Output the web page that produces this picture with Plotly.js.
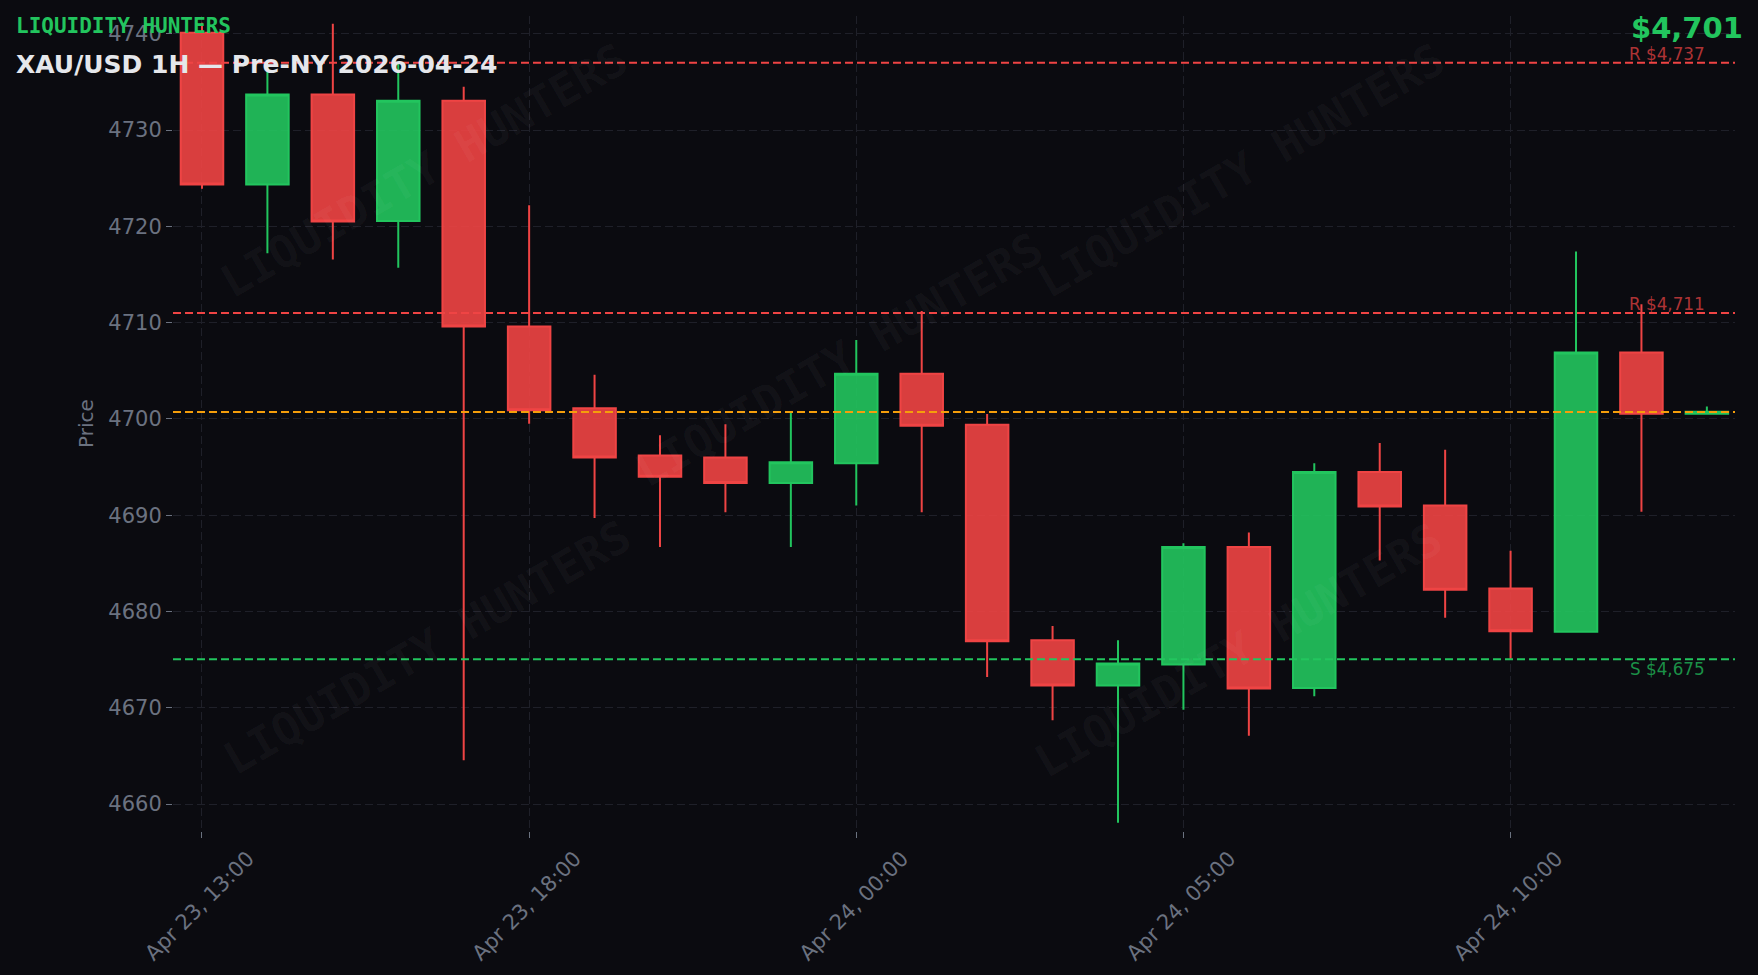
<!DOCTYPE html>
<html>
<head>
<meta charset="utf-8">
<script src="https://cdn.plot.ly/plotly-3.0.1.min.js"></script>
<style>
  html, body { margin: 0; padding: 0; background: #0b0b10; }
  #chart { width: 1758px; height: 975px; }
</style>
</head>
<body>
<div id="chart"></div>
<script>
// ---- data ----
const times = [
  "Apr 23, 13:00", "Apr 23, 14:00", "Apr 23, 15:00", "Apr 23, 16:00", "Apr 23, 17:00",
  "Apr 23, 18:00", "Apr 23, 19:00", "Apr 23, 20:00", "Apr 23, 21:00", "Apr 23, 22:00",
  "Apr 24, 00:00", "Apr 24, 01:00", "Apr 24, 02:00", "Apr 24, 03:00", "Apr 24, 04:00",
  "Apr 24, 05:00", "Apr 24, 06:00", "Apr 24, 07:00", "Apr 24, 08:00", "Apr 24, 09:00",
  "Apr 24, 10:00", "Apr 24, 11:00", "Apr 24, 12:00", "Apr 24, 13:00"
];
const openP  = [4740.1, 4724.35, 4733.7, 4720.55, 4733.05, 4709.6, 4701.1, 4696.2, 4696.0, 4693.35,
                4695.4, 4704.7, 4699.4, 4677.0, 4672.3, 4674.5, 4686.7, 4672.05, 4694.5, 4691.0,
                4682.4, 4677.9, 4706.9, 4700.55];
const highP  = [4741.15, 4736.8, 4741.05, 4736.9, 4734.5, 4722.2, 4704.6, 4698.3, 4699.45, 4700.65,
                4708.2, 4711.2, 4700.5, 4678.5, 4677.0, 4687.1, 4688.2, 4695.4, 4697.5, 4696.8,
                4686.3, 4717.4, 4711.9, 4701.3];
const lowP   = [4723.9, 4717.2, 4716.55, 4715.7, 4664.55, 4699.5, 4689.7, 4686.7, 4690.3, 4686.7,
                4691.0, 4690.3, 4673.2, 4668.7, 4658.05, 4669.8, 4667.1, 4671.2, 4685.3, 4679.35,
                4675.0, 4677.9, 4690.35, 4700.55];
const closeP = [4724.35, 4733.7, 4720.5, 4733.05, 4709.6, 4700.9, 4696.0, 4694.0, 4693.35, 4695.5,
                4704.7, 4699.3, 4676.9, 4672.3, 4674.6, 4686.7, 4672.0, 4694.5, 4690.9, 4682.25,
                4677.95, 4706.9, 4700.55, 4700.75];
const tickTimes = ["Apr 23, 13:00", "Apr 23, 18:00", "Apr 24, 00:00", "Apr 24, 05:00", "Apr 24, 10:00"];
const resistanceLevels = [4737.0, 4711.0];
const resistanceLabels = ["R $4,737", "R $4,711"];
const supportLevels = [4675.05];
const supportLabels = ["S $4,675"];
const currentPrice = 4700.73;
const currentLabel = "$4,701";
const brand = "LIQUIDITY HUNTERS";
const chartTitle = "XAU/USD 1H — Pre-NY 2026-04-24";
const yTitle = "Price";

// ---- styles ----
const GREEN = "#22c55e", RED = "#ef4444", ORANGE = "#f59e0b";
const BG = "#0b0b10", GRID = "#1f2029", MUTED = "#6b7280";
const DASH = "8px,4px";

const trace = {
  type: "candlestick",
  x: times, open: openP, high: highP, low: lowP, close: closeP,
  increasing: { line: { color: GREEN, width: 2 }, fillcolor: "rgba(34,197,94,0.9)" },
  decreasing: { line: { color: RED, width: 2 }, fillcolor: "rgba(239,68,68,0.9)" },
  whiskerwidth: 0,
  hoverinfo: "skip",
  showlegend: false
};

const lastX = times[times.length - 1];
const shapes = [];
const annotations = [];

resistanceLevels.forEach((v, i) => {
  shapes.push({ type: "line", xref: "paper", x0: 0, x1: 1, yref: "y", y0: v, y1: v,
    line: { color: RED, width: 2, dash: DASH } });
  annotations.push({ x: lastX, y: v, xref: "x", yref: "y", text: resistanceLabels[i],
    showarrow: false, xanchor: "right", yanchor: "bottom", yshift: -3,
    font: { family: "DejaVu Sans", size: 16.8, color: "rgba(239,68,68,0.72)" } });
});
supportLevels.forEach((v, i) => {
  shapes.push({ type: "line", xref: "paper", x0: 0, x1: 1, yref: "y", y0: v, y1: v,
    line: { color: GREEN, width: 2, dash: DASH } });
  annotations.push({ x: lastX, y: v, xref: "x", yref: "y", text: supportLabels[i],
    showarrow: false, xanchor: "right", yanchor: "top", yshift: 2,
    font: { family: "DejaVu Sans", size: 16.8, color: "rgba(34,197,94,0.72)" } });
});
shapes.push({ type: "line", xref: "paper", x0: 0, x1: 1, yref: "y", y0: currentPrice, y1: currentPrice,
  line: { color: ORANGE, width: 2, dash: DASH } });

// watermarks
const wmX = [0.161, 0.427, 0.684, 0.163, 0.682];
const wmY = [0.810, 0.578, 0.810, 0.225, 0.222];
wmX.forEach((x, i) => {
  annotations.push({ x: x, y: wmY[i], xref: "paper", yref: "paper", text: brand,
    showarrow: false, textangle: -30, xanchor: "center", yanchor: "middle",
    font: { family: "DejaVu Sans Mono", size: 45, color: "rgba(255,255,255,0.04)", weight: "bold" } });
});

// header texts
annotations.push({ x: -0.1018, y: 0.988, xref: "paper", yref: "paper", text: "<b>" + brand + "</b>",
  showarrow: false, xanchor: "left", yanchor: "middle",
  font: { family: "DejaVu Sans Mono", size: 21, color: GREEN } });
annotations.push({ x: -0.1018, y: 0.941, xref: "paper", yref: "paper", text: "<b>" + chartTitle + "</b>",
  showarrow: false, xanchor: "left", yanchor: "middle",
  font: { family: "DejaVu Sans", size: 25, color: "#e5e7eb" } });
annotations.push({ x: 1.0065, y: 0.985, xref: "paper", yref: "paper", text: "<b>" + currentLabel + "</b>",
  showarrow: false, xanchor: "right", yanchor: "middle",
  font: { family: "DejaVu Sans", size: 29, color: GREEN } });

const layout = {
  width: 1758, height: 975,
  paper_bgcolor: BG, plot_bgcolor: BG,
  margin: { l: 173, r: 23, t: 16, b: 144, autoexpand: false },
  font: { family: "DejaVu Sans", size: 21, color: MUTED },
  showlegend: false,
  boxgap: 0.35,
  boxgroupgap: 0,
  xaxis: {
    type: "category",
    range: [-0.443, 23.43],
    autorange: false,
    rangeslider: { visible: false },
    tickmode: "array", tickvals: tickTimes, ticktext: tickTimes,
    tickangle: -45,
    ticklabelshift: 46,
    ticks: "outside", ticklen: 6, tickcolor: MUTED, tickwidth: 1,
    showgrid: true, gridcolor: GRID, griddash: DASH, gridwidth: 1,
    zeroline: false, showline: false,
    tickfont: { family: "DejaVu Sans", size: 21, color: MUTED }
  },
  yaxis: {
    range: [4657.2, 4741.85],
    autorange: false,
    dtick: 10, tick0: 4660,
    ticks: "outside", ticklen: 6, tickcolor: MUTED, tickwidth: 1,
    showgrid: true, gridcolor: GRID, griddash: DASH, gridwidth: 1,
    zeroline: false, showline: false,
    tickfont: { family: "DejaVu Sans", size: 21, color: MUTED },
    title: { text: yTitle, standoff: 9, font: { family: "DejaVu Sans", size: 20, color: MUTED } }
  },
  shapes: shapes,
  annotations: annotations
};

Plotly.newPlot("chart", [trace], layout, { displayModeBar: false, staticPlot: true });
</script>
</body>
</html>
